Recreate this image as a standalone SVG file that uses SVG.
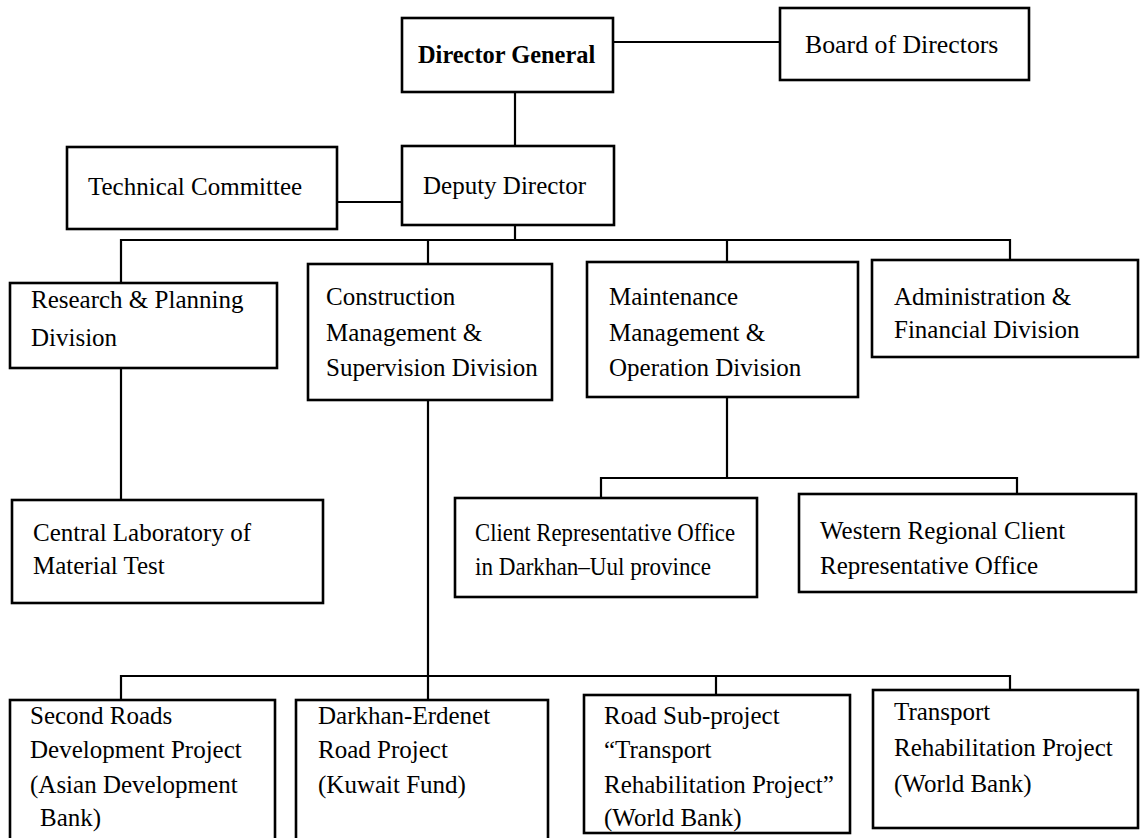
<svg xmlns="http://www.w3.org/2000/svg" width="1144" height="838" viewBox="0 0 1144 838">
<style>
rect{fill:#fff;stroke:#000;stroke-width:2.6}
text{font-family:"Liberation Serif","Times New Roman",serif;font-size:25px;fill:#000}
.b{font-weight:bold;font-size:24.4px}
.s{font-size:24.5px}
.c path{fill:none;stroke:#000;stroke-width:2.2}
</style>
<rect x="0" y="0" width="1144" height="838" style="stroke:none"/>
<g class="c" id="connectors">
<path d="M613 42H780"/>
<path d="M515 92V146"/>
<path d="M337 202H402"/>
<path d="M515 225V240"/>
<path d="M121 283V240H1010V260"/>
<path d="M428 240V264"/>
<path d="M727 240V262"/>
<path d="M121 368V500"/>
<path d="M428 400V700"/>
<path d="M727 397V478"/>
<path d="M601 498V478H1017V494"/>
<path d="M121 700V676H1010V690"/>
<path d="M716 676V695"/>
</g>
<g id="dg"><rect x="402" y="18" width="211" height="74"/><text class="b" x="418" y="63">Director General</text></g>
<g id="board"><rect x="780" y="8" width="249" height="72"/><text x="805" y="53" style="font-size:25.8px">Board of Directors</text></g>
<g id="tc"><rect x="67" y="147" width="270" height="82"/><text x="88" y="195">Technical Committee</text></g>
<g id="dd"><rect x="402" y="146" width="212" height="79"/><text x="423" y="194">Deputy Director</text></g>
<g id="rp"><rect x="10" y="283" width="267" height="85"/><text x="31" y="308">Research &amp; Planning</text><text x="31" y="346">Division</text></g>
<g id="cm"><rect x="308" y="264" width="244" height="136"/><text x="326" y="305">Construction</text><text x="326" y="341">Management &amp;</text><text x="326" y="376">Supervision Division</text></g>
<g id="mm"><rect x="587" y="262" width="271" height="135"/><text x="609" y="305">Maintenance</text><text x="609" y="341">Management &amp;</text><text x="609" y="376">Operation Division</text></g>
<g id="af"><rect x="872" y="260" width="266" height="97"/><text x="894" y="305">Administration &amp;</text><text x="894" y="338">Financial Division</text></g>
<g id="cl"><rect x="12" y="500" width="311" height="103"/><text x="33" y="541">Central Laboratory of</text><text x="33" y="574">Material Test</text></g>
<g id="cro"><rect x="455" y="498" width="302" height="99"/><text class="s" x="475" y="541" textLength="260" lengthAdjust="spacingAndGlyphs">Client Representative Office</text><text class="s" x="475" y="575" textLength="236" lengthAdjust="spacingAndGlyphs">in Darkhan–Uul province</text></g>
<g id="wr"><rect x="799" y="494" width="337" height="98"/><text x="820" y="539">Western Regional Client</text><text x="820" y="574">Representative Office</text></g>
<g id="sr"><rect x="10" y="700" width="265" height="145"/><text x="30" y="724">Second Roads</text><text x="30" y="758">Development Project</text><text x="30" y="793">(Asian Development</text><text x="40" y="826">Bank)</text></g>
<g id="de"><rect x="296" y="700" width="252" height="145"/><text x="318" y="724">Darkhan-Erdenet</text><text x="318" y="758">Road Project</text><text x="318" y="793">(Kuwait Fund)</text></g>
<g id="rs"><rect x="584" y="695" width="266" height="138"/><text x="604" y="724">Road Sub-project</text><text x="604" y="758">“Transport</text><text x="604" y="793">Rehabilitation Project”</text><text x="604" y="826">(World Bank)</text></g>
<g id="tr"><rect x="873" y="690" width="265" height="138"/><text x="894" y="720">Transport</text><text x="894" y="756">Rehabilitation Project</text><text x="894" y="792">(World Bank)</text></g>
</svg>
